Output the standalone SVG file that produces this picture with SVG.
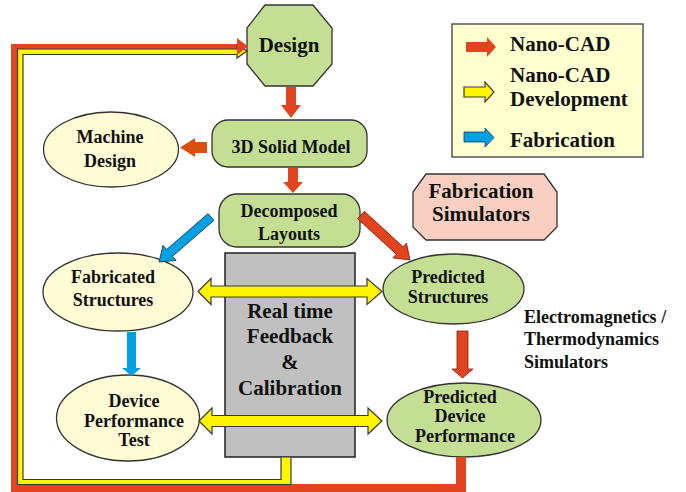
<svg xmlns="http://www.w3.org/2000/svg" width="686" height="492" viewBox="0 0 686 492" font-family="'Liberation Serif', 'DejaVu Serif', serif">
<style>
text{font-family:'Liberation Serif','DejaVu Serif',serif;font-weight:700;fill:#111;text-anchor:middle}
.t21{font-size:21px}
.t18{font-size:18px}
.green{fill:#C4DF93;stroke:#333;stroke-width:1.3}
.cream{fill:#FFFCD5;stroke:#333;stroke-width:1.3}
.red{fill:#E34420}
.redo{fill:#E34420;stroke:#7A1E05;stroke-width:0.8}
.blue{fill:#00A0E2}
.blueo{fill:#00A0E2;stroke:#1D3550;stroke-width:0.8}
.yel{fill:#FFF500;stroke:#3A3A3A;stroke-width:1.2}
.left{text-anchor:start}
</style>
<rect width="686" height="492" fill="#FFFFFF"/>

<g id="legend">
<rect x="452" y="24" width="191" height="133" fill="#FFFFD0" stroke="#555" stroke-width="1.5"/>
<polygon class="red" points="466,42 487,42 487,37 496,47 487,57 487,52 466,52"/>
<polygon class="yel" points="464,87 485,87 485,82 494,92 485,102 485,97 464,97"/>
<polygon class="blueo" points="464,132 485,132 485,128 494,137.5 485,147 485,142 464,142"/>
<text class="t21 left" x="510" y="51">Nano-CAD</text>
<text class="t21 left" x="510" y="82">Nano-CAD</text>
<text class="t21 left" x="510" y="106">Development</text>
<text class="t21 left" x="510" y="147">Fabrication</text>
</g>

<g id="design">
<polygon class="green" points="265,5 313,5 332,28 332,64 313,86 265,86 247,64 247,28"/>
<text class="t21" x="289" y="52">Design</text>
</g>

<g id="solid-model">
<rect class="green" x="212" y="120" width="155" height="47" rx="16"/>
<text class="t18" x="291" y="153">3D Solid Model</text>
</g>

<g id="machine-design">
<ellipse class="cream" cx="111" cy="149.5" rx="67.5" ry="37.5"/>
<text class="t18" x="110" y="143">Machine</text>
<text class="t18" x="110" y="167">Design</text>
</g>

<g id="decomposed-layouts">
<rect class="green" x="219" y="194" width="141" height="53" rx="18"/>
<text class="t18" x="289" y="217">Decomposed</text>
<text class="t18" x="289" y="240">Layouts</text>
</g>

<g id="fabrication-simulators">
<polygon points="426,174 544,174 557,192 557,227 544,240 426,240 413,227 413,192" fill="#F8CFC0" stroke="#333" stroke-width="1.3"/>
<text class="t21" x="481" y="198">Fabrication</text>
<text class="t21" x="481" y="221">Simulators</text>
</g>

<g id="feedback">
<rect x="225" y="253" width="130" height="204" fill="#C0C0C0" stroke="#222" stroke-width="1.5"/>
<text class="t21" x="290" y="318">Real time</text>
<text class="t21" x="290" y="343">Feedback</text>
<text class="t21" x="290" y="369">&amp;</text>
<text class="t21" x="290" y="395">Calibration</text>
</g>

<g id="fabricated-structures">
<ellipse class="cream" cx="118" cy="292" rx="75" ry="39"/>
<text class="t18" x="113" y="283">Fabricated</text>
<text class="t18" x="113" y="306">Structures</text>
</g>

<g id="device-performance-test">
<ellipse class="cream" cx="128" cy="418" rx="71.5" ry="43"/>
<text class="t18" x="134" y="407">Device</text>
<text class="t18" x="134" y="427">Performance</text>
<text class="t18" x="134" y="446">Test</text>
</g>

<g id="predicted-structures">
<ellipse class="green" cx="453.5" cy="289" rx="70.5" ry="35"/>
<text class="t18" x="448" y="283">Predicted</text>
<text class="t18" x="448" y="303">Structures</text>
</g>

<g id="predicted-device-performance">
<ellipse class="green" cx="464" cy="420" rx="77" ry="37"/>
<text class="t18" x="460" y="402.5">Predicted</text>
<text class="t18" x="460" y="422">Device</text>
<text class="t18" x="465" y="441.5">Performance</text>
</g>

<g id="em-simulators">
<text class="t18 left" x="524" y="323">Electromagnetics /</text>
<text class="t18 left" x="524" y="345">Thermodynamics</text>
<text class="t18 left" x="524" y="368">Simulators</text>
</g>

<g id="connectors">
<polygon class="red" transform="translate(291,87) rotate(90)" points="0,-5 18,-5 18,-10 31,0 18,10 18,5 0,5"/>
<polygon class="red" transform="translate(293,168) rotate(90)" points="0,-5 14,-5 14,-10 25,0 14,10 14,5 0,5"/>
<polygon fill="#D9500E" transform="translate(207,147.5) rotate(180)" points="0,-5.5 12,-5.5 12,-9.5 27,0 12,9.5 12,5.5 0,5.5"/>
<polygon class="redo" transform="translate(361,215) rotate(42.56)" points="0,-5 52.5,-5 52.5,-10 66.5,0 52.5,10 52.5,5 0,5"/>
<polygon class="blueo" transform="translate(211,217) rotate(139.1)" points="0,-4.5 54.8,-4.5 54.8,-10 68.8,0 54.8,10 54.8,4.5 0,4.5"/>
<polygon class="blue" transform="translate(131.5,332) rotate(90)" points="0,-4.5 36,-4.5 36,-9.5 44,0 36,9.5 36,4.5 0,4.5"/>
<polygon class="redo" transform="translate(462.5,331) rotate(90)" points="0,-5.5 38,-5.5 38,-10.5 47,0 38,10.5 38,5.5 0,5.5"/>
<polygon class="yel" points="198,291.5 211,278.5 211,286 367,286 367,278.5 382,291.5 367,304.5 367,297 211,297 211,304.5"/>
<polygon class="yel" points="199,421 212,408 212,415.5 368,415.5 368,408 382,421 368,434 368,426.5 212,426.5 212,434"/>
<polygon class="red" points="456,457 466,457 466,492 11,492 11,44 238,44 238,49 17,49 17,484 456,484"/>
<polygon class="yel" points="281,457 291,457 291,484.5 17.5,484.5 17.5,49 237,49 237,45 247,51 237,58 237,54.5 23,54.5 23,479.5 281,479.5"/>
<polygon class="red" points="237,38 248,46.5 237,55"/>
</g>
</svg>
